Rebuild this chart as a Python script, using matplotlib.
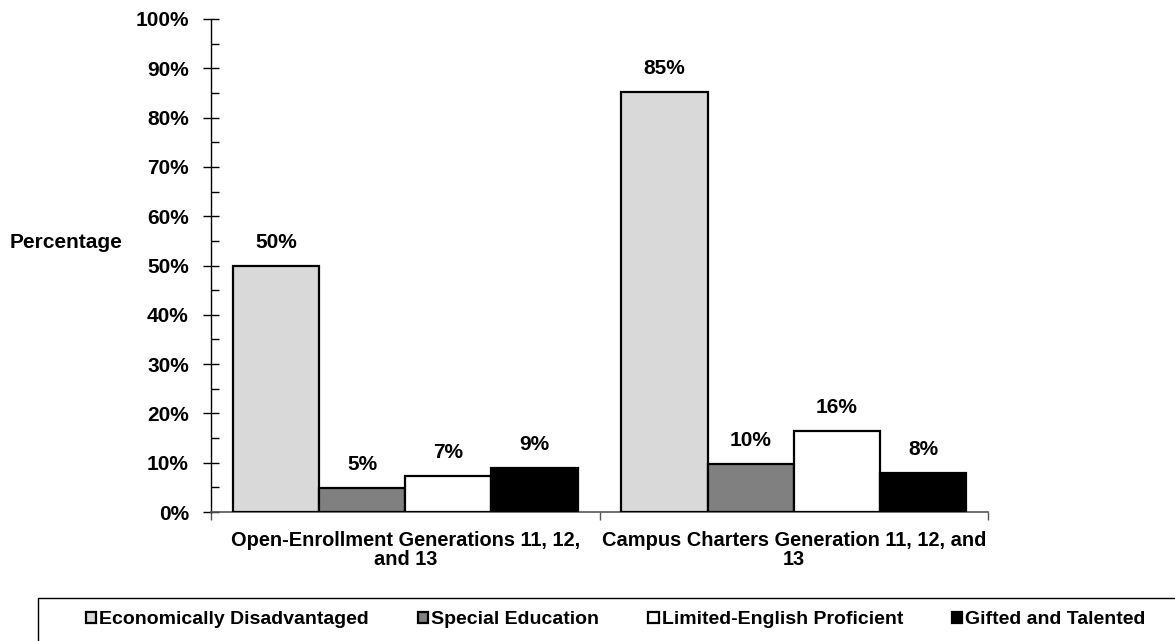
import numpy as np
import matplotlib
matplotlib.use('Agg')
import matplotlib.pyplot as plt
from matplotlib.patches import Rectangle

plt.rcParams['font.family'] = ['Liberation Sans', 'DejaVu Sans']
plt.rcParams['font.weight'] = 'bold'

# data
groups = ['Open-Enrollment Generations 11, 12,\nand 13',
          'Campus Charters Generation 11, 12, and\n13']
series = ['Economically Disadvantaged', 'Special Education',
          'Limited-English Proficient', 'Gifted and Talented']
econ = [49.9, 85.2]
sped = [4.8, 9.7]
lep = [7.4, 16.4]
gt = [8.9, 8.0]
colors = ['#D9D9D9', '#808080', '#FFFFFF', '#000000']

fs = 15
fig = plt.figure(figsize=(11.75, 6.41), dpi=100)
ax = fig.add_axes([211/1175, 1-512/641, (988-211)/1175, (512-19)/641])

x = np.arange(len(groups))
w = 0.222
bars = []
for i, vals in enumerate([econ, sped, lep, gt]):
    b = ax.bar(x + (i-1.5)*w, vals, w, color=colors[i], edgecolor='black',
               linewidth=1.6, label=series[i], zorder=3)
    bars.append(b)
    ax.bar_label(b, labels=['%.0f%%' % v for v in vals], padding=10,
                 fontsize=fs, fontweight='bold')

ax.set_xlim(-0.5, 1.5)
ax.set_ylim(0, 100)
ax.set_yticks(np.arange(0, 101, 10))
ax.set_yticklabels(['%d%%' % t for t in range(0, 101, 10)])
ax.set_yticks(np.arange(5, 100, 10), minor=True)
ax.tick_params(axis='y', which='major', direction='inout', length=12,
               width=1, labelsize=fs, pad=10)
ax.tick_params(axis='y', which='minor', direction='in', length=6, width=1)

ax.set_xticks(x)
ax.set_xticklabels(groups, fontsize=14.4, fontweight='bold', linespacing=1.0)
ax.set_xticks([-0.5, 0.5, 1.5], minor=True)
ax.tick_params(axis='x', which='major', length=0, pad=14)
ax.tick_params(axis='x', which='minor', direction='out', length=6, width=1,
               color='#555555')

for s in ['top', 'right']:
    ax.spines[s].set_visible(False)
ax.spines['left'].set_linewidth(1)
ax.spines['bottom'].set_linewidth(1.2)
ax.spines['bottom'].set_color('#555555')

fig.text(10/1175, 1-242/641, 'Percentage', fontsize=fs, fontweight='bold',
         ha='left', va='center')

# legend box running off the page
fig.patches.append(Rectangle((38/1175, -0.05), 1.2, 0.05 + (641-598)/641,
                             transform=fig.transFigure, fill=False,
                             edgecolor='black', linewidth=1))
fig.legend(handles=bars, labels=series, ncol=4, frameon=False,
           loc='center left', bbox_to_anchor=(78/1175, 1-620/641),
           fontsize=14, handlelength=0.55, handleheight=0.55,
           handletextpad=0.15, columnspacing=2.5, borderaxespad=0)

fig.savefig('out.png', dpi=100)
